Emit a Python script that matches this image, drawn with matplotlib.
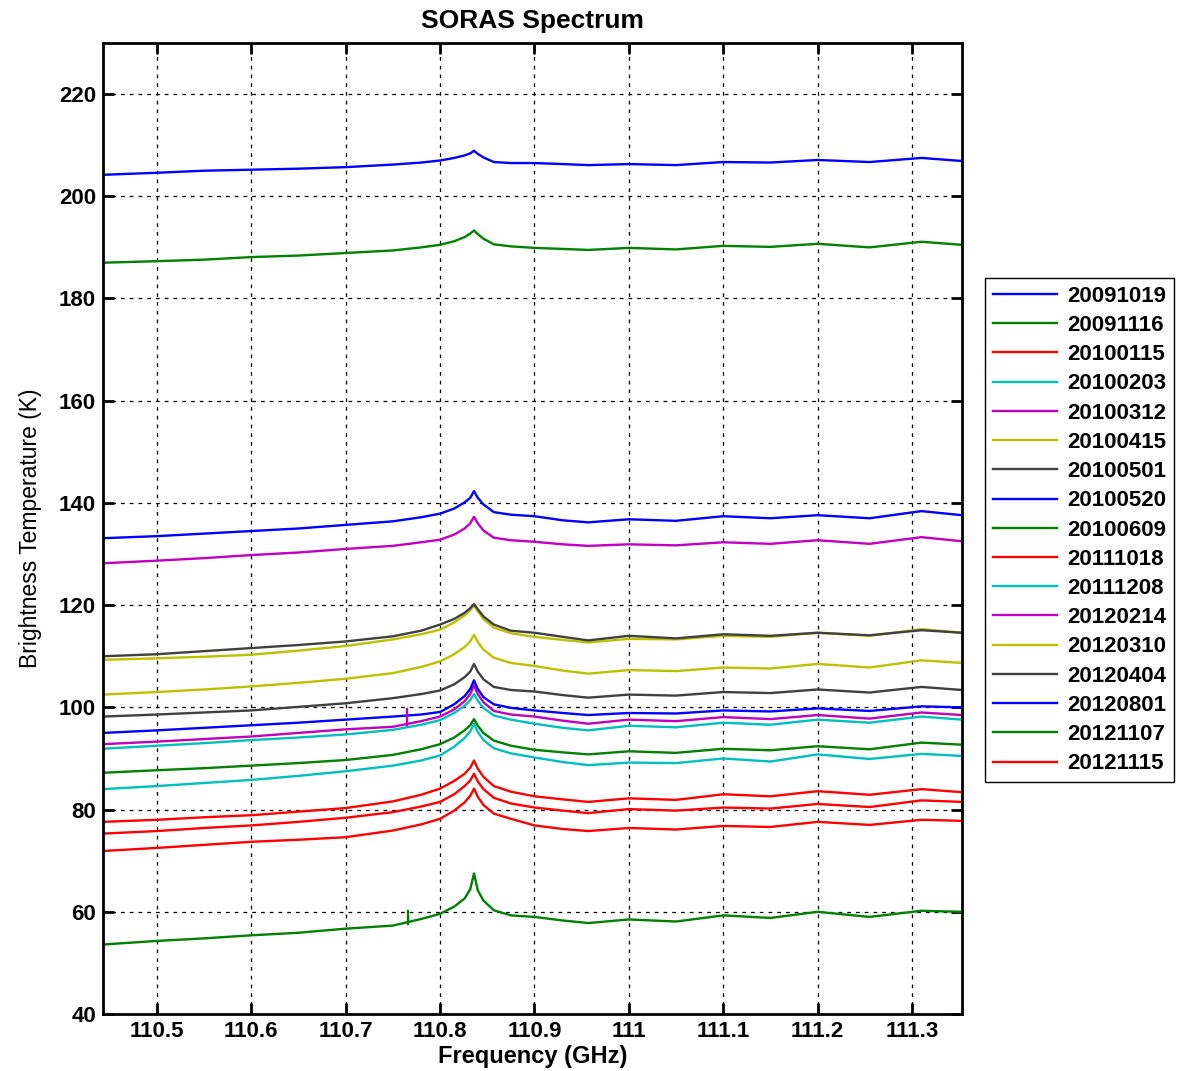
import numpy as np
import matplotlib
matplotlib.use("Agg")
import matplotlib.pyplot as plt

plt.rcParams['font.family'] = ['Liberation Sans', 'DejaVu Sans']

freq = [110.443, 110.5, 110.55, 110.6, 110.65, 110.7, 110.75, 110.78, 110.8,
        110.815, 110.826, 110.832, 110.836, 110.84, 110.846, 110.857, 110.875,
        110.9, 110.93, 110.957, 111.0, 111.05, 111.1, 111.15, 111.2, 111.255,
        111.31, 111.353]

dates = ['20091019', '20091116', '20100115', '20100203', '20100312', '20100415',
         '20100501', '20100520', '20100609', '20111018', '20111208', '20120214',
         '20120310', '20120404', '20120801', '20121107', '20121115']

tb_20091019 = [204.2, 204.6, 205.0, 205.2, 205.4, 205.7, 206.2, 206.6, 207.0, 207.5, 208.0, 208.4,
               208.9, 208.3, 207.6, 206.7, 206.5, 206.5, 206.3, 206.1, 206.3, 206.1, 206.7, 206.6,
               207.1, 206.7, 207.5, 206.9]
tb_20091116 = [187.0, 187.3, 187.6, 188.1, 188.4, 188.9, 189.4, 190.0, 190.5, 191.2, 192.0, 192.7,
               193.3, 192.6, 191.7, 190.6, 190.2, 189.9, 189.7, 189.5, 189.9, 189.6, 190.3, 190.1,
               190.7, 190.0, 191.1, 190.5]
tb_20100115 = [77.6, 78.0, 78.5, 78.9, 79.6, 80.3, 81.6, 82.9, 84.1, 85.6, 87.0, 88.2,
               89.6, 88.0, 86.4, 84.6, 83.5, 82.6, 82.0, 81.5, 82.2, 81.9, 83.0, 82.6,
               83.6, 82.9, 84.0, 83.4]
tb_20100203 = [91.9, 92.5, 93.0, 93.6, 94.1, 94.7, 95.6, 96.6, 97.5, 98.9, 100.3, 101.4,
               102.6, 101.3, 99.9, 98.4, 97.6, 96.8, 96.0, 95.5, 96.4, 96.1, 97.0, 96.6,
               97.6, 97.0, 98.2, 97.6]
tb_20100312 = [128.2, 128.7, 129.2, 129.8, 130.3, 131.0, 131.6, 132.3, 132.8, 133.8, 135.0, 136.0,
               137.3, 136.0, 134.6, 133.2, 132.7, 132.4, 131.9, 131.6, 131.9, 131.7, 132.3, 132.0,
               132.7, 132.0, 133.3, 132.5]
tb_20100415 = [109.3, 109.6, 109.9, 110.3, 111.1, 112.0, 113.3, 114.3, 115.2, 116.6, 118.0, 119.0,
               120.0, 118.8, 117.3, 115.6, 114.5, 113.8, 113.2, 112.7, 113.4, 113.3, 114.0, 113.8,
               114.6, 114.0, 115.3, 114.6]
tb_20100501 = [110.0, 110.4, 111.0, 111.6, 112.2, 112.9, 113.9, 115.0, 116.2, 117.3, 118.5, 119.4,
               120.2, 119.2, 117.8, 116.2, 115.0, 114.6, 113.8, 113.1, 114.0, 113.5, 114.3, 114.0,
               114.6, 114.1, 115.1, 114.6]
tb_20100520 = [133.1, 133.5, 134.0, 134.5, 135.0, 135.7, 136.4, 137.2, 137.9, 138.9, 140.1, 141.0,
               142.3, 141.0, 139.7, 138.2, 137.7, 137.4, 136.6, 136.2, 136.8, 136.5, 137.4, 137.0,
               137.6, 137.0, 138.4, 137.6]
tb_20100609 = [87.2, 87.7, 88.1, 88.6, 89.1, 89.7, 90.7, 91.8, 92.8, 94.1, 95.5, 96.5,
               97.7, 96.4, 95.0, 93.5, 92.5, 91.7, 91.2, 90.8, 91.4, 91.1, 91.9, 91.6,
               92.4, 91.8, 93.1, 92.7]
tb_20111018 = [75.3, 75.8, 76.4, 76.9, 77.6, 78.4, 79.5, 80.6, 81.5, 83.0, 84.6, 85.7,
               87.0, 85.5, 84.0, 82.3, 81.2, 80.4, 79.8, 79.3, 80.1, 79.8, 80.4, 80.2,
               81.1, 80.5, 81.8, 81.5]
tb_20111208 = [84.0, 84.6, 85.2, 85.8, 86.6, 87.5, 88.6, 89.6, 90.6, 92.3, 94.0, 95.3,
               96.8, 95.2, 93.6, 92.0, 91.0, 90.2, 89.3, 88.7, 89.2, 89.1, 90.0, 89.4,
               90.8, 89.9, 90.9, 90.5]
tb_20120214 = [92.8, 93.3, 93.8, 94.3, 95.0, 95.7, 96.2, 97.3, 98.2, 99.6, 101.2, 102.6,
               104.3, 102.6, 101.0, 99.3, 98.6, 98.2, 97.4, 96.8, 97.6, 97.3, 98.1, 97.7,
               98.5, 97.8, 99.0, 98.5]
tb_20120310 = [102.5, 103.0, 103.5, 104.1, 104.8, 105.6, 106.7, 107.9, 109.0, 110.4, 111.8, 112.9,
               114.2, 112.8, 111.3, 109.7, 108.7, 108.1, 107.2, 106.6, 107.3, 107.1, 107.8, 107.6,
               108.5, 107.8, 109.2, 108.7]
tb_20120404 = [98.2, 98.6, 99.0, 99.4, 100.1, 100.8, 101.8, 102.6, 103.3, 104.5, 105.9, 107.0,
               108.5, 107.0, 105.5, 104.0, 103.4, 103.1, 102.4, 101.9, 102.5, 102.3, 103.0, 102.8,
               103.5, 102.9, 104.0, 103.4]
tb_20120801 = [95.0, 95.5, 96.0, 96.5, 97.0, 97.6, 98.2, 98.6, 99.1, 100.6, 102.2, 103.6,
               105.3, 103.6, 102.0, 100.6, 99.9, 99.4, 98.9, 98.5, 98.9, 98.8, 99.4, 99.2,
               99.8, 99.3, 100.2, 100.0]
tb_20121107 = [53.6, 54.3, 54.8, 55.4, 55.9, 56.7, 57.3, 58.6, 59.6, 61.0, 62.6, 64.4,
               67.5, 64.2, 62.2, 60.3, 59.3, 59.0, 58.3, 57.8, 58.5, 58.1, 59.3, 58.8,
               60.0, 59.0, 60.2, 60.0]
tb_20121115 = [71.9, 72.5, 73.1, 73.7, 74.1, 74.6, 75.9, 77.1, 78.2, 79.8, 81.4, 82.7,
               84.1, 82.5, 80.9, 79.2, 78.2, 76.9, 76.2, 75.8, 76.4, 76.1, 76.8, 76.6,
               77.6, 77.0, 78.0, 77.8]

spectra = [tb_20091019, tb_20091116, tb_20100115, tb_20100203, tb_20100312, tb_20100415,
           tb_20100501, tb_20100520, tb_20100609, tb_20111018, tb_20111208, tb_20120214,
           tb_20120310, tb_20120404, tb_20120801, tb_20121107, tb_20121115]

# narrow interference spikes (series index, freq, low, high)
spike_idx = [11, 15]
spike_freq = [110.765, 110.766]
spike_lo = [96.5, 57.6]
spike_hi = [99.6, 60.1]

# matlab default line colour order
colors = [(0, 0, 1), (0, 0.5, 0), (1, 0, 0), (0, 0.75, 0.75),
          (0.75, 0, 0.75), (0.75, 0.75, 0), (0.25, 0.25, 0.25)]

fig = plt.figure(figsize=(11.94, 10.71), dpi=100)
ax = fig.add_axes([0.0863, 0.0532, 0.7194, 0.9067])

for i, (d, tb) in enumerate(zip(dates, spectra)):
    ax.plot(freq, tb, color=colors[i % 7], lw=1.7, label=d)

for k, f, lo, hi in zip(spike_idx, spike_freq, spike_lo, spike_hi):
    ax.plot([f, f], [lo, hi], color=colors[k % 7], lw=1.7)

ax.set_xlim(110.443, 111.353)
ax.set_ylim(40, 230)
ax.set_xticks([110.5, 110.6, 110.7, 110.8, 110.9, 111.0, 111.1, 111.2, 111.3])
ax.set_xticklabels(['110.5', '110.6', '110.7', '110.8', '110.9', '111', '111.1', '111.2', '111.3'])
ax.set_yticks(np.arange(40, 221, 20))

ax.grid(True, color='black', linestyle=(0, (3, 4)), linewidth=0.9)
ax.tick_params(direction='in', length=8, width=2, top=True, right=True,
               labelsize=16, pad=5)
for lab in ax.get_xticklabels() + ax.get_yticklabels():
    lab.set_fontweight('bold')
for sp in ax.spines.values():
    sp.set_linewidth(2)

ax.set_title('SORAS Spectrum', fontsize=19, fontweight='bold', pad=11)
ax.set_xlabel('Frequency (GHz)', fontsize=17, fontweight='bold', labelpad=2)
ax.set_ylabel('Brightness Temperature (K)', fontsize=16.5, labelpad=12)

leg = fig.legend(loc='upper left', bbox_to_anchor=(0.825, 0.7404),
                 prop={'weight': 'bold', 'size': 16}, handlelength=2.9,
                 labelspacing=0.37, borderpad=0.35, handletextpad=0.45,
                 borderaxespad=0, fancybox=False, framealpha=1, edgecolor='black')
leg.get_frame().set_linewidth(1.0)

fig.savefig('out.png', dpi=100)
